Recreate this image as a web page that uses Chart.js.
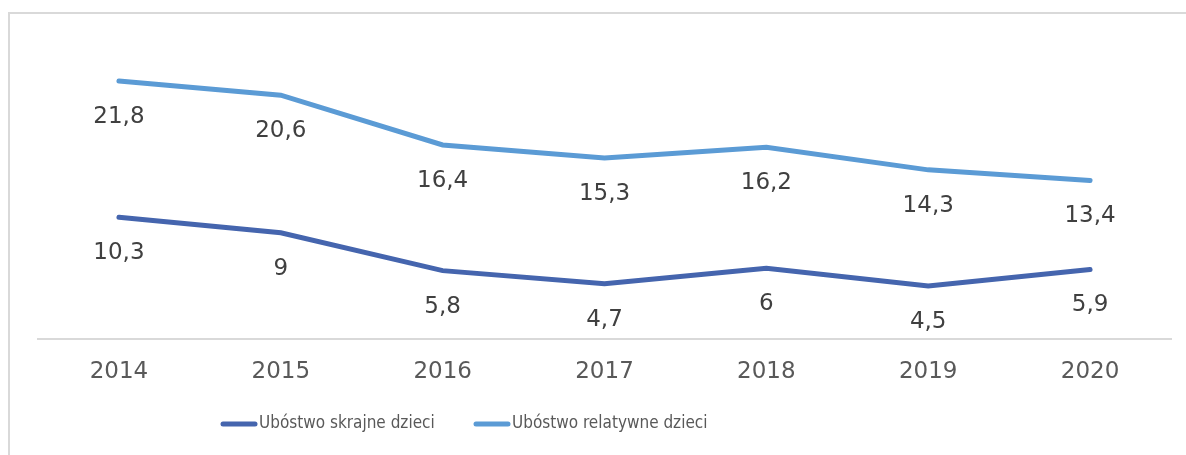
<!DOCTYPE html>
<html>
<head>
<meta charset="utf-8">
<script src="https://cdn.jsdelivr.net/npm/chart.js@4/dist/chart.umd.min.js"></script>
<style>
  html, body { margin: 0; padding: 0; background: #fff; }
  #wrap { width: 1186px; height: 455px; position: relative; }
</style>
</head>
<body>
<div id="wrap"><canvas id="chart"></canvas></div>
<script>
// data
var years = ['2014', '2015', '2016', '2017', '2018', '2019', '2020'];
var skrajne = [10.3, 9, 5.8, 4.7, 6, 4.5, 5.9];
var relatywne = [21.8, 20.6, 16.4, 15.3, 16.2, 14.3, 13.4];
var seriesNames = ['Ubóstwo skrajne dzieci', 'Ubóstwo relatywne dzieci'];
var seriesColors = ['#4565ae', '#5b9bd5'];

// frame round the chart (top + left only, like the screenshot)
var framePlugin = {
    id: 'frame',
    beforeDraw: function (chart) {
        var ctx = chart.ctx;
        ctx.save();
        ctx.strokeStyle = '#d9d9d9';
        ctx.lineWidth = 2;
        ctx.beginPath();
        ctx.moveTo(9, 455);
        ctx.lineTo(9, 13);
        ctx.lineTo(1186, 13);
        ctx.stroke();
        ctx.restore();
    }
};

// value labels under each point, decimal comma
var valueLabels = {
    id: 'valueLabels',
    afterDatasetsDraw: function (chart) {
        var ctx = chart.ctx;
        ctx.save();
        ctx.font = '23px "DejaVu Sans"';
        ctx.fillStyle = '#404040';
        ctx.textAlign = 'center';
        ctx.textBaseline = 'middle';
        chart.data.datasets.forEach(function (ds, i) {
            var meta = chart.getDatasetMeta(i);
            meta.data.forEach(function (pt, j) {
                var txt = String(ds.data[j]).replace('.', ',');
                ctx.fillText(txt, pt.x, pt.y + 36);
            });
        });
        ctx.restore();
    }
};

// legend drawn by hand so the line sits right next to the text
var lineLegend = {
    id: 'lineLegend',
    afterDraw: function (chart) {
        var ctx = chart.ctx;
        var pos = [221, 474];
        ctx.save();
        ctx.font = '17px "DejaVu Sans Condensed", "DejaVu Sans"';
        ctx.textBaseline = 'middle';
        ctx.textAlign = 'left';
        chart.data.datasets.forEach(function (ds, i) {
            var x = pos[i], y = 424;
            ctx.strokeStyle = ds.borderColor;
            ctx.lineWidth = 5;
            ctx.lineCap = 'round';
            ctx.beginPath();
            ctx.moveTo(x + 2, y);
            ctx.lineTo(x + 34, y);
            ctx.stroke();
            ctx.fillStyle = '#595959';
            ctx.fillText(ds.label, x + 38, y);
        });
        ctx.restore();
    }
};

new Chart('chart', {
    type: 'line',
    data: {
        labels: years,
        datasets: [{
            label: seriesNames[0],
            data: skrajne,
            borderColor: seriesColors[0],
            backgroundColor: seriesColors[0],
            borderWidth: 5,
            borderCapStyle: 'round',
            pointRadius: 0,
            tension: 0
        }, {
            label: seriesNames[1],
            data: relatywne,
            borderColor: seriesColors[1],
            backgroundColor: seriesColors[1],
            borderWidth: 5,
            borderCapStyle: 'round',
            pointRadius: 0,
            tension: 0
        }]
    },
    options: {
        responsive: true,
        maintainAspectRatio: false,
        animation: false,
        layout: {
            padding: { left: 38, right: 15, top: 43, bottom: 50 }
        },
        plugins: {
            legend: { display: false },
            tooltip: { enabled: false }
        },
        scales: {
            y: {
                display: false,
                min: 0,
                max: 25
            },
            x: {
                offset: true,
                grid: { display: false, drawTicks: false },
                border: { display: true, color: '#d9d9d9', width: 2 },
                ticks: {
                    padding: 19,
                    color: '#595959',
                    font: { family: 'DejaVu Sans', size: 23 }
                }
            }
        }
    },
    plugins: [framePlugin, valueLabels, lineLegend]
});
</script>
</body>
</html>
